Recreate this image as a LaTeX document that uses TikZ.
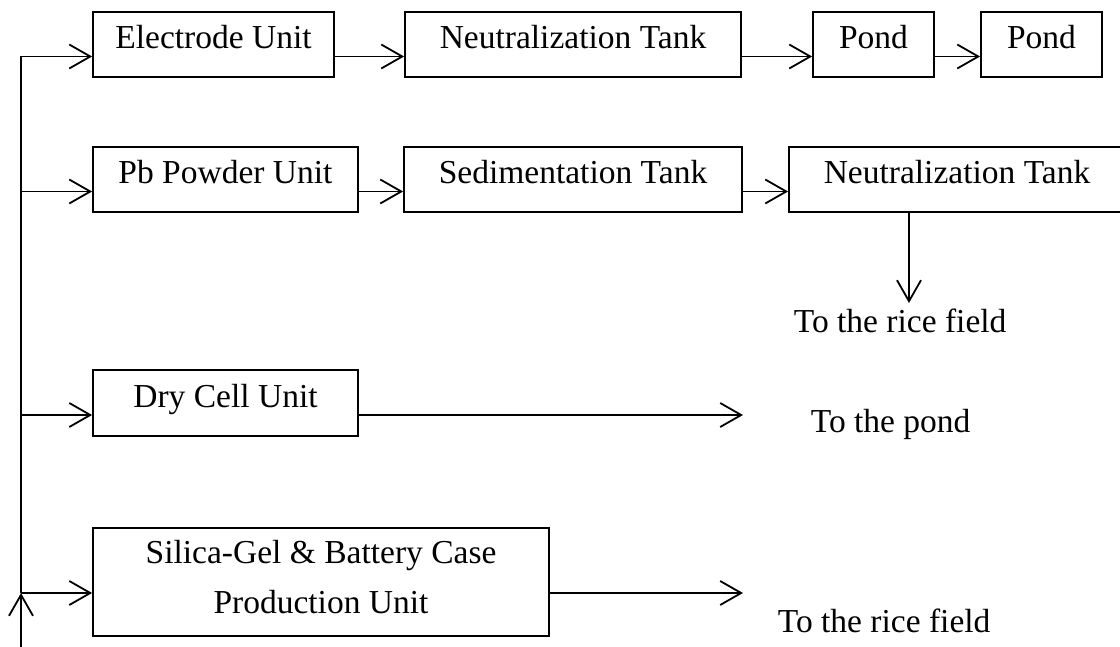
\documentclass[tikz,border=0pt]{standalone}
\usepackage{fontspec}
\setmainfont{Liberation Serif}
\usetikzlibrary{arrows.meta}
\begin{document}
\begin{tikzpicture}[x=1pt,y=-1pt,
  line width=1.8pt,
  every node/.style={font=\fontsize{33.5}{50}\selectfont},
  unitbox/.style={draw, line width=1.8pt, inner sep=0pt, text height=22pt,
    text depth=13pt, minimum height=65pt},
  tallbox/.style={draw, line width=1.8pt, inner sep=0pt, align=center},
  flow/.style={-{Straight Barb[length=21pt,width=24pt]}},
  outlabel/.style={anchor=base west, inner sep=0pt}
]
\useasboundingbox (0,0) rectangle (1120,647);

% first line: electrode unit to the ponds
\node[unitbox, minimum width=241pt] (elec)  at (213.5,44.5) {Electrode Unit};
\node[unitbox, minimum width=336pt] (neutA) at (573,44.5)   {Neutralization Tank};
\node[unitbox, minimum width=121pt] (pondA) at (873.5,44.5) {Pond};
\node[unitbox, minimum width=121pt] (pondB) at (1041.5,44.5){Pond};

% second line: Pb powder unit
\node[unitbox, minimum width=265pt] (pb)    at (225.5,179.5) {Pb Powder Unit};
\node[unitbox, minimum width=338pt] (sed)   at (573,179.5)   {Sedimentation Tank};
\node[unitbox, minimum width=336pt] (neutB) at (957,179.5)   {Neutralization Tank};

% third line: dry cell unit
\node[unitbox, minimum width=265pt, minimum height=66pt] (dry) at (225.5,403) {Dry Cell Unit};

% fourth line: silica-gel and case production (strut lifts the two lines)
\node[tallbox, minimum width=456pt, minimum height=108pt] (sil) at (321,582)
  {Silica-Gel \& Battery Case\\Production Unit\rule[-10pt]{0pt}{10pt}};

% outlets
\node[outlabel] (riceA) at (793,333) {To the rice field};
\node[outlabel] (pond)  at (810,432) {To the pond};
\node[outlabel] (riceB) at (777,632) {To the rice field};

% connector ends and feed line
\coordinate (src)   at (21,647);
\coordinate (drain) at (909,303);
\coordinate (pondend) at (743,415);
\coordinate (riceend) at (743,593);
\coordinate (elecin) at ([yshift=-12pt]elec.west);
\coordinate (pbin)   at ([yshift=-12pt]pb.west);
\coordinate (dryin)  at ([yshift=-12pt]dry.west);
\coordinate (silin)  at ([yshift=-11pt]sil.west);

% feed line with its branches
\draw[flow] (src) -- (src |- silin);
\draw[flow] (src |- silin) -- (src |- elecin) -- (elecin);
\draw[flow] (src |- pbin)  -- (pbin);
\draw[flow] (src |- dryin) -- (dryin);
\draw[flow] (src |- silin) -- (silin);

% chains
\draw[flow] ([yshift=-12pt]elec.east)  -- ([yshift=-12pt]neutA.west);
\draw[flow] ([yshift=-12pt]neutA.east) -- ([yshift=-12pt]pondA.west);
\draw[flow] ([yshift=-12pt]pondA.east) -- ([yshift=-12pt]pondB.west);
\draw[flow] ([yshift=-12pt]pb.east)    -- ([yshift=-12pt]sed.west);
\draw[flow] ([yshift=-12pt]sed.east)   -- ([yshift=-12pt]neutB.west);
\draw[flow] (neutB.south -| drain) -- (drain);
\draw[flow] ([yshift=-12pt]dry.east) -- (pondend);
\draw[flow] ([yshift=-11pt]sil.east) -- (riceend);
\end{tikzpicture}
\end{document}
